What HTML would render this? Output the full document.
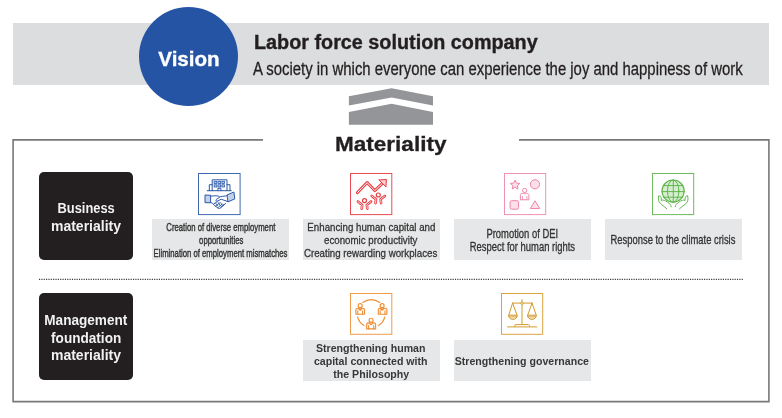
<!DOCTYPE html>
<html><head><meta charset="utf-8"><style>
html,body{margin:0;padding:0;background:#fff;width:782px;height:418px;overflow:hidden;position:relative}
body{font-family:"Liberation Sans",sans-serif}
.r{position:absolute}
.t{position:absolute;white-space:nowrap;will-change:transform}

</style></head><body>
<div class="r" style="left:13px;top:23px;width:756px;height:62px;background:#dcddde"></div>
<div class="r" style="left:139.2px;top:7.4px;width:99px;height:99px;border-radius:50%;background:#2554a5"></div>
<div class="t" style="left:-111.50px;top:47.02px;width:600px;text-align:center;font-size:20.6px;line-height:23.690px;font-weight:bold;color:#ffffff;-webkit-text-stroke:0.35px #fff"><span style="display:inline-block;transform:scaleX(1.0);transform-origin:50% 50%">Vision</span></div>
<div class="t" style="left:254.00px;top:30.84px;font-size:19.6px;line-height:22.540px;font-weight:bold;color:#231f20;-webkit-text-stroke:0.35px #231f20"><span style="display:inline-block;transform:scaleX(1.01);transform-origin:0 50%">Labor force solution company</span></div>
<div class="t" style="left:253.00px;top:59.01px;font-size:18px;line-height:20.700px;font-weight:normal;color:#231f20;-webkit-text-stroke:0.3px #231f20"><span style="display:inline-block;transform:scaleX(0.828);transform-origin:0 50%">A society in which everyone can experience the joy and happiness of work</span></div>
<svg class="r" style="left:0;top:0" width="782" height="418" viewBox="0 0 782 418"><polygon fill="#939598" points="348.9,96.2 391.6,88.2 433,96.2 433,105.6 391.6,97.6 348.9,105.6"/><polygon fill="#939598" points="348.9,111.9 391.6,103.8 433,111.9 433,124.8 348.9,124.8"/></svg>
<div class="t" style="left:91.00px;top:131.91px;width:600px;text-align:center;font-size:20.5px;line-height:23.575px;font-weight:bold;color:#231f20;-webkit-text-stroke:0.3px #231f20"><span style="display:inline-block;transform:scaleX(1.1);transform-origin:50% 50%">Materiality</span></div>
<svg class="r" style="left:0;top:0" width="782" height="418"><path d="M263,139.9 H13.1 V401.6 H768.9 V139.9 H519" fill="none" stroke="#787878" stroke-width="1.6"/></svg>
<svg class="r" style="left:0;top:0" width="782" height="418"><line x1="39" y1="279.4" x2="743" y2="279.4" stroke="#3a3a3a" stroke-width="1.2" stroke-dasharray="1.15 1.2"/></svg>
<div class="r" style="left:39px;top:172px;width:94.4px;height:87.5px;border-radius:5px;background:#231f20"></div>
<div class="t" style="left:-214.00px;top:199.90px;width:600px;text-align:center;font-size:14px;line-height:16.100px;font-weight:bold;color:#f2f2f2;"><span style="display:inline-block;transform:scaleX(0.92);transform-origin:50% 50%">Business</span></div>
<div class="t" style="left:-214.00px;top:217.60px;width:600px;text-align:center;font-size:14px;line-height:16.100px;font-weight:bold;color:#f2f2f2;"><span style="display:inline-block;transform:scaleX(1.0);transform-origin:50% 50%">materiality</span></div>
<div class="r" style="left:39px;top:293.2px;width:94.4px;height:87.2px;border-radius:5px;background:#231f20"></div>
<div class="t" style="left:-214.00px;top:312.40px;width:600px;text-align:center;font-size:14px;line-height:16.100px;font-weight:bold;color:#f2f2f2;"><span style="display:inline-block;transform:scaleX(0.97);transform-origin:50% 50%">Management</span></div>
<div class="t" style="left:-214.00px;top:330.30px;width:600px;text-align:center;font-size:14px;line-height:16.100px;font-weight:bold;color:#f2f2f2;"><span style="display:inline-block;transform:scaleX(0.97);transform-origin:50% 50%">foundation</span></div>
<div class="t" style="left:-214.00px;top:347.40px;width:600px;text-align:center;font-size:14px;line-height:16.100px;font-weight:bold;color:#f2f2f2;"><span style="display:inline-block;transform:scaleX(1.0);transform-origin:50% 50%">materiality</span></div>
<div class="r" style="left:152.1px;top:219.2px;width:136.80px;height:40.70px;background:#e6e7e8"></div>
<div class="r" style="left:302.9px;top:219.2px;width:136.80px;height:40.70px;background:#e6e7e8"></div>
<div class="r" style="left:454.1px;top:219.2px;width:136.90px;height:40.70px;background:#e6e7e8"></div>
<div class="r" style="left:605.2px;top:219.2px;width:136.90px;height:40.70px;background:#e6e7e8"></div>
<div class="r" style="left:303.1px;top:340.0px;width:136.70px;height:40.50px;background:#e6e7e8"></div>
<div class="r" style="left:454.0px;top:340.0px;width:137.00px;height:40.50px;background:#e6e7e8"></div>
<div class="t" style="left:-79.50px;top:220.21px;width:600px;text-align:center;font-size:11.6px;line-height:13.340px;font-weight:normal;color:#333333;-webkit-text-stroke:0.42px #333"><span style="display:inline-block;transform:scaleX(0.666);transform-origin:50% 50%">Creation of diverse employment</span></div>
<div class="t" style="left:-79.50px;top:233.21px;width:600px;text-align:center;font-size:11.6px;line-height:13.340px;font-weight:normal;color:#333333;-webkit-text-stroke:0.42px #333"><span style="display:inline-block;transform:scaleX(0.666);transform-origin:50% 50%">opportunities</span></div>
<div class="t" style="left:-79.50px;top:246.21px;width:600px;text-align:center;font-size:11.6px;line-height:13.340px;font-weight:normal;color:#333333;-webkit-text-stroke:0.42px #333"><span style="display:inline-block;transform:scaleX(0.666);transform-origin:50% 50%">Elimination of employment mismatches</span></div>
<div class="t" style="left:71.30px;top:220.21px;width:600px;text-align:center;font-size:11.6px;line-height:13.340px;font-weight:normal;color:#333333;-webkit-text-stroke:0.3px #333"><span style="display:inline-block;transform:scaleX(0.838);transform-origin:50% 50%">Enhancing human capital and</span></div>
<div class="t" style="left:71.30px;top:233.21px;width:600px;text-align:center;font-size:11.6px;line-height:13.340px;font-weight:normal;color:#333333;-webkit-text-stroke:0.3px #333"><span style="display:inline-block;transform:scaleX(0.838);transform-origin:50% 50%">economic productivity</span></div>
<div class="t" style="left:71.30px;top:246.21px;width:600px;text-align:center;font-size:11.6px;line-height:13.340px;font-weight:normal;color:#333333;-webkit-text-stroke:0.3px #333"><span style="display:inline-block;transform:scaleX(0.838);transform-origin:50% 50%">Creating rewarding workplaces</span></div>
<div class="t" style="left:221.55px;top:227.63px;width:600px;text-align:center;font-size:11.9px;line-height:13.685px;font-weight:normal;color:#333333;-webkit-text-stroke:0.3px #333"><span style="display:inline-block;transform:scaleX(0.792);transform-origin:50% 50%">Promotion of DEI</span></div>
<div class="t" style="left:221.55px;top:240.63px;width:600px;text-align:center;font-size:11.9px;line-height:13.685px;font-weight:normal;color:#333333;-webkit-text-stroke:0.3px #333"><span style="display:inline-block;transform:scaleX(0.792);transform-origin:50% 50%">Respect for human rights</span></div>
<div class="t" style="left:372.85px;top:233.73px;width:600px;text-align:center;font-size:11.9px;line-height:13.685px;font-weight:normal;color:#333333;-webkit-text-stroke:0.3px #333"><span style="display:inline-block;transform:scaleX(0.79);transform-origin:50% 50%">Response to the climate crisis</span></div>
<div class="t" style="left:71.45px;top:342.82px;width:600px;text-align:center;font-size:10.4px;line-height:11.960px;font-weight:bold;color:#383838;"><span style="display:inline-block;transform:scaleX(1.02);transform-origin:50% 50%">Strengthening human</span></div>
<div class="t" style="left:71.45px;top:355.82px;width:600px;text-align:center;font-size:10.4px;line-height:11.960px;font-weight:bold;color:#383838;"><span style="display:inline-block;transform:scaleX(1.02);transform-origin:50% 50%">capital connected with</span></div>
<div class="t" style="left:71.45px;top:368.52px;width:600px;text-align:center;font-size:10.4px;line-height:11.960px;font-weight:bold;color:#383838;"><span style="display:inline-block;transform:scaleX(1.02);transform-origin:50% 50%">the Philosophy</span></div>
<div class="t" style="left:221.90px;top:355.82px;width:600px;text-align:center;font-size:10.4px;line-height:11.960px;font-weight:bold;color:#383838;"><span style="display:inline-block;transform:scaleX(1.02);transform-origin:50% 50%">Strengthening governance</span></div>
<svg class="r" style="left:198px;top:172.5px;overflow:visible" width="42.6" height="42.1" viewBox="0 0 42.6 42.1"><rect x="0.5" y="0.5" width="41.6" height="41.1" fill="#fff" stroke="#2b58a7" stroke-opacity="0.9" stroke-width="1.0"/><path fill="none" stroke="#2b58a7" stroke-width="1" stroke-linejoin="round" stroke-linecap="round" d="M14.2,17.7 V6.8 H29 V17.7"/><path fill="none" stroke="#2b58a7" stroke-width="1" stroke-linejoin="round" stroke-linecap="round" d="M14.2,11.7 H11.3 V17.7 M29,11.7 H32 V17.7"/><path fill="none" stroke="#2b58a7" stroke-width="1" stroke-linejoin="round" stroke-linecap="round" d="M9.2,17.7 H33.2"/><rect x="16.1" y="8.3" width="2.7" height="2.2" fill="#c3d0e8" stroke="#2b58a7" stroke-width="0.8"/><rect x="16.1" y="11.8" width="2.7" height="2.2" fill="#c3d0e8" stroke="#2b58a7" stroke-width="0.8"/><rect x="20.0" y="8.3" width="2.7" height="2.2" fill="#c3d0e8" stroke="#2b58a7" stroke-width="0.8"/><rect x="20.0" y="11.8" width="2.7" height="2.2" fill="#c3d0e8" stroke="#2b58a7" stroke-width="0.8"/><rect x="23.9" y="8.3" width="2.7" height="2.2" fill="#c3d0e8" stroke="#2b58a7" stroke-width="0.8"/><rect x="23.9" y="11.8" width="2.7" height="2.2" fill="#c3d0e8" stroke="#2b58a7" stroke-width="0.8"/><path fill="none" stroke="#2b58a7" stroke-width="1" stroke-linejoin="round" stroke-linecap="round" d="M19.9,17.7 V15.3 H22.9 V17.7"/><path d="M7,22 L12.6,22.3 L12.6,29.8 L7,29.6 Z" fill="#c3d0e8" stroke="#2b58a7" stroke-width="1" stroke-linejoin="round"/><path d="M29,22 L35.9,19 L36.8,25.9 L29.9,28.9 Z" fill="#c3d0e8" stroke="#2b58a7" stroke-width="1" stroke-linejoin="round"/><path fill="none" stroke="#2b58a7" stroke-width="1" stroke-linejoin="round" stroke-linecap="round" d="M12.6,23.2 C15.5,22.8 18.5,22.4 21.2,23.3"/><path fill="none" stroke="#2b58a7" stroke-width="1" stroke-linejoin="round" stroke-linecap="round" d="M29,22.6 C27,23.4 25,23.2 22.5,23.6 L18.3,26.5 C17.3,27.5 18.3,28.8 19.8,28 L23.2,26.2 L29.9,28.6"/><path fill="none" stroke="#2b58a7" stroke-width="1" stroke-linejoin="round" stroke-linecap="round" d="M12.6,29.2 C14,29.8 15.5,31.2 17,32.8 L20.2,35.2 C21,35.7 22,35.5 22.8,34.8 L27.6,30.6"/><path fill="none" stroke="#2b58a7" stroke-width="0.85" stroke-linecap="round" d="M15.6,31.1 L19.2,28.6 M17.6,33.1 L21.6,30 M19.9,34.7 L24,31.2 M22.5,34.3 L26,31.3 M17.4,29.8 L19.6,32.8 M20,29.4 L22.4,32.8 M22.6,29.6 L24.6,32.4"/></svg>
<svg class="r" style="left:350.3px;top:172.5px;overflow:visible" width="42.3" height="42.1" viewBox="0 0 42.3 42.1"><rect x="0.5" y="0.5" width="41.3" height="41.1" fill="#fff" stroke="#e8393e" stroke-opacity="0.9" stroke-width="1.0"/><path d="M7.3,19.8 L17.1,9.6 L24.8,17.6 L33.6,9.2" fill="none" stroke="#e8393e" stroke-width="2.9" stroke-linejoin="round" stroke-linecap="round"/><path d="M7.3,19.8 L17.1,9.6 L24.8,17.6 L33.6,9.2" fill="none" stroke="#fff" stroke-width="1.0" stroke-linejoin="round" stroke-linecap="round"/><path d="M28.8,6.9 L36.4,6.5 L36,13.8 Z" fill="#f8d0d2" stroke="#e8393e" stroke-width="1" stroke-linejoin="round"/><path d="M7.9,28.5 L12.2,31.900000000000002 L11.7,35.7 M21.1,28.5 L16.8,31.900000000000002 L17.3,35.7" fill="none" stroke="#e8393e" stroke-width="2.6" stroke-linejoin="round" stroke-linecap="round"/><path d="M7.9,28.5 L12.2,31.900000000000002 L11.7,35.7 M21.1,28.5 L16.8,31.900000000000002 L17.3,35.7" fill="none" stroke="#fff" stroke-width="0.8" stroke-linejoin="round" stroke-linecap="round"/><circle cx="14.5" cy="27.6" r="2.0" fill="#fff" stroke="#e8393e" stroke-width="1.15"/><path d="M21.700000000000003,22.9 L26.0,26.3 L25.5,30.1 M34.9,22.9 L30.6,26.3 L31.1,30.1" fill="none" stroke="#e8393e" stroke-width="2.6" stroke-linejoin="round" stroke-linecap="round"/><path d="M21.700000000000003,22.9 L26.0,26.3 L25.5,30.1 M34.9,22.9 L30.6,26.3 L31.1,30.1" fill="none" stroke="#fff" stroke-width="0.8" stroke-linejoin="round" stroke-linecap="round"/><circle cx="28.3" cy="22.0" r="2.0" fill="#fff" stroke="#e8393e" stroke-width="1.15"/></svg>
<svg class="r" style="left:504.2px;top:172.5px;overflow:visible" width="42.2" height="42.1" viewBox="0 0 42.2 42.1"><rect x="0.5" y="0.5" width="41.2" height="41.1" fill="#fff" stroke="#ee86a8" stroke-opacity="0.9" stroke-width="1.0"/><polygon fill="#fbe0ea" stroke="#ee86a8" stroke-width="1" stroke-linejoin="round" points="11.10,7.00 12.45,10.14 15.86,10.45 13.29,12.71 14.04,16.05 11.10,14.30 8.16,16.05 8.91,12.71 6.34,10.45 9.75,10.14"/><circle cx="31" cy="11.3" r="4.6" fill="#fbe0ea" stroke="#ee86a8" stroke-width="1" stroke-linejoin="round"/><path d="M16.4,26.8 V22.4 C16.4,21 17.4,20.3 18.8,20.3 H22.6 C24,20.3 24.9,21 24.9,22.4 V26.8 Z" fill="#fff" stroke="#ee86a8" stroke-width="1" stroke-linejoin="round"/><path d="M18.4,23 V26.8 M22.9,23 V26.8" fill="none" stroke="#ee86a8" stroke-width="0.8"/><circle cx="20.7" cy="17.4" r="2.1" fill="#fff" stroke="#ee86a8" stroke-width="1"/><rect x="6.1" y="27.7" width="8.5" height="8.5" rx="1.6" fill="#fbe0ea" stroke="#ee86a8" stroke-width="1" stroke-linejoin="round"/><path d="M31,27.8 L35.7,35.5 L26.3,35.5 Z" fill="#fbe0ea" stroke="#ee86a8" stroke-width="1" stroke-linejoin="round"/></svg>
<svg class="r" style="left:652.2px;top:172.5px;overflow:visible" width="42.2" height="42.1" viewBox="0 0 42.2 42.1"><rect x="0.5" y="0.5" width="41.2" height="41.1" fill="#fff" stroke="#5db448" stroke-opacity="0.9" stroke-width="1.0"/><circle cx="21.1" cy="18.1" r="11.1" fill="#d7edd2" stroke="#5db448" stroke-width="1.1"/><ellipse cx="21.2" cy="18.1" rx="5.7" ry="11.1" fill="none" stroke="#5db448" stroke-width="0.95" stroke-linejoin="round" stroke-linecap="round"/><path fill="none" stroke="#5db448" stroke-width="0.95" stroke-linejoin="round" stroke-linecap="round" d="M21.3,7 V29.2 M10,18.6 H32.2 M11.4,12.6 H30.8 M11.4,24.2 H30.8"/><path fill="none" stroke="#5db448" stroke-width="0.95" stroke-linejoin="round" stroke-linecap="round" d="M6.70,23.1 C6.00,26 6.30,28.6 8.40,30.5 L14.90,35.8"/><path fill="none" stroke="#5db448" stroke-width="0.95" stroke-linejoin="round" stroke-linecap="round" d="M6.70,23.1 C7.70,22.2 8.90,23.2 9.10,24.6 L9.50,27.2"/><path fill="none" stroke="#5db448" stroke-width="0.95" stroke-linejoin="round" stroke-linecap="round" d="M9.50,27.2 C11.20,26.5 13.20,27.6 15.60,29.2 C17.60,30.5 19.00,31.8 19.20,33.8"/><path fill="none" stroke="#5db448" stroke-width="0.95" stroke-linejoin="round" stroke-linecap="round" d="M35.70,23.1 C36.40,26 36.10,28.6 34.00,30.5 L27.50,35.8"/><path fill="none" stroke="#5db448" stroke-width="0.95" stroke-linejoin="round" stroke-linecap="round" d="M35.70,23.1 C34.70,22.2 33.50,23.2 33.30,24.6 L32.90,27.2"/><path fill="none" stroke="#5db448" stroke-width="0.95" stroke-linejoin="round" stroke-linecap="round" d="M32.90,27.2 C31.20,26.5 29.20,27.6 26.80,29.2 C24.80,30.5 23.40,31.8 23.20,33.8"/></svg>
<svg class="r" style="left:350.3px;top:293.4px;overflow:visible" width="42.3" height="41.8" viewBox="0 0 42.3 41.8"><rect x="0.5" y="0.5" width="41.3" height="40.8" fill="#fff" stroke="#f0903a" stroke-opacity="0.9" stroke-width="1.0"/><path fill="none" stroke="#f0903a" stroke-width="1.15" stroke-linejoin="round" stroke-linecap="round" d="M12.77,9.42 A14.0,14.0 0 0 1 29.63,9.42"/><path fill="none" stroke="#f0903a" stroke-width="1.15" stroke-linejoin="round" stroke-linecap="round" d="M7.62,23.99 A14.0,14.0 0 0 0 13.99,32.60"/><path fill="none" stroke="#f0903a" stroke-width="1.15" stroke-linejoin="round" stroke-linecap="round" d="M34.78,23.99 A14.0,14.0 0 0 1 28.41,32.60"/><path d="M5.9,21.3 V17.1 C5.9,15.9 6.7,15.3 7.9,15.3 H12.5 C13.7,15.3 14.5,15.9 14.5,17.1 V21.3 Z" fill="#fff" stroke="#f0903a" stroke-width="1.15" stroke-linejoin="round"/><path fill="none" stroke="#f0903a" stroke-width="1.15" stroke-linejoin="round" stroke-linecap="round" d="M7.800000000000001,17.900000000000002 V21.3 M12.6,17.900000000000002 V21.3 M8.2,15.5 L10.2,17.3 L12.2,15.5"/><circle cx="10.2" cy="12.7" r="2.0" fill="#fff" stroke="#f0903a" stroke-width="1.15"/><path d="M28.3,21.3 V17.1 C28.3,15.9 29.1,15.3 30.3,15.3 H34.9 C36.1,15.3 36.9,15.9 36.9,17.1 V21.3 Z" fill="#fff" stroke="#f0903a" stroke-width="1.15" stroke-linejoin="round"/><path fill="none" stroke="#f0903a" stroke-width="1.15" stroke-linejoin="round" stroke-linecap="round" d="M30.2,17.900000000000002 V21.3 M35.0,17.900000000000002 V21.3 M30.1,15.5 L32.1,17.3 L34.1,15.5"/><circle cx="32.1" cy="12.7" r="2.0" fill="#fff" stroke="#f0903a" stroke-width="1.15"/><path d="M16.7,35.9 V31.7 C16.7,30.5 17.5,29.9 18.7,29.9 H23.6 C24.8,29.9 25.6,30.5 25.6,31.7 V35.9 Z" fill="#fff" stroke="#f0903a" stroke-width="1.15" stroke-linejoin="round"/><path fill="none" stroke="#f0903a" stroke-width="1.15" stroke-linejoin="round" stroke-linecap="round" d="M18.599999999999998,32.5 V35.9 M23.700000000000003,32.5 V35.9 M19.1,30.099999999999998 L21.1,31.9 L23.1,30.099999999999998"/><circle cx="21.1" cy="27.3" r="2.0" fill="#fff" stroke="#f0903a" stroke-width="1.15"/></svg>
<svg class="r" style="left:501.4px;top:293.4px;overflow:visible" width="42.2" height="41.8" viewBox="0 0 42.2 41.8"><rect x="0.5" y="0.5" width="41.2" height="40.8" fill="#fff" stroke="#d39a2c" stroke-opacity="0.9" stroke-width="1.0"/><path fill="none" stroke="#d39a2c" stroke-width="1" stroke-linejoin="round" stroke-linecap="round" d="M21,6.6 V31.6 M11.6,10.1 H31.1"/><path fill="none" stroke="#d39a2c" stroke-width="1" stroke-linejoin="round" stroke-linecap="round" d="M11.6,10.1 L7.8,22.1 M11.6,10.1 L16,22.1 M31.1,10.1 L26.7,22.1 M31.1,10.1 L35.2,22.1"/><path d="M7.5,22.2 H16.3 A4.4,4.2 0 0 1 7.5,22.2 Z" fill="#f1e2c0" stroke="#d39a2c" stroke-width="1"/><path d="M26.5,22.2 H35.4 A4.45,4.2 0 0 1 26.5,22.2 Z" fill="#f1e2c0" stroke="#d39a2c" stroke-width="1"/><path d="M7.8,23.7 H16 M26.8,23.7 H35.1" fill="none" stroke="#d39a2c" stroke-width="0.6"/><circle cx="21" cy="10.1" r="1.2" fill="#fff" stroke="#d39a2c" stroke-width="0.9"/><path d="M13.8,33.9 V32.6 C13.8,32 14.2,31.6 14.8,31.6 H27.5 C28.1,31.6 28.5,32 28.5,32.6 V33.9" fill="#fff" stroke="#d39a2c" stroke-width="1" stroke-linejoin="round"/><path fill="none" stroke="#d39a2c" stroke-width="1" stroke-linejoin="round" stroke-linecap="round" d="M6.5,33.9 H35.8"/></svg>
</body></html>
